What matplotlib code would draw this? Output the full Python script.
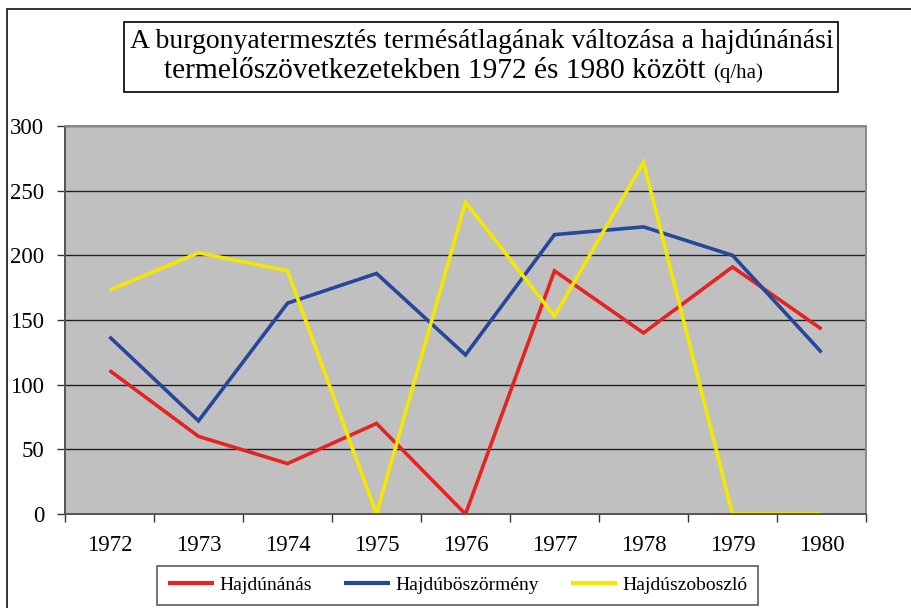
import matplotlib
matplotlib.use("Agg")
import matplotlib.pyplot as plt
from matplotlib.patches import Rectangle
from matplotlib.ticker import FixedLocator

# Termésátlag (q/ha) településenként
years = ["1972", "1973", "1974", "1975", "1976", "1977", "1978", "1979", "1980"]
hajdunanas = [111, 60, 39, 70, 0, 188, 140, 191, 143]
hajduboszormeny = [137, 72, 163, 186, 123, 216, 222, 200, 125]
hajduszoboszlo = [173, 202, 188, 0, 241, 153, 272, 0, 0]

series = [
    ("Hajdúnánás", hajdunanas, "#E52421"),
    ("Hajdúböszörmény", hajduboszormeny, "#27479B"),
    ("Hajdúszoboszló", hajduszoboszlo, "#F5E800"),
]

W, H = 911, 608
SERIF = "Liberation Serif"
plt.rcParams["font.family"] = [SERIF, "DejaVu Serif"]


def fx(px):
    return px / W


def fy(py):
    return 1 - py / H


fig = plt.figure(figsize=(W / 100, H / 100), dpi=100)
fig.patch.set_facecolor("white")

# keret a teljes ábra körül
fig.patches.append(Rectangle((fx(7), fy(700)), fx(1000), fy(9) - fy(700),
                             transform=fig.transFigure, fill=False,
                             edgecolor="#333333", linewidth=1.4))

ax = fig.add_axes([fx(65), fy(514), fx(866) - fx(65), fy(126) - fy(514)])
ax.set_facecolor("#C0C0C0")

x = list(range(len(years)))
for name, vals, col in series:
    ax.plot(x, vals, color=col, linewidth=2.6, label=name,
            solid_joinstyle="miter", solid_capstyle="butt")

ax.set_xlim(-0.5, len(years) - 0.5)
ax.set_ylim(0, 300)
ax.set_yticks(range(0, 301, 50))
ax.yaxis.grid(True, color="#222222", linewidth=1.0)
ax.set_axisbelow(True)

ax.set_xticks(x)
ax.set_xticklabels(years)
ax.xaxis.set_minor_locator(FixedLocator([i - 0.5 for i in range(len(years) + 1)]))
ax.tick_params(axis="x", which="major", length=0, pad=15, labelsize=16.5)
ax.tick_params(axis="x", which="minor", length=6, width=1, color="#333333")
ax.tick_params(axis="y", length=6, width=1, color="#333333", pad=9, labelsize=16.5)

for side in ["left", "bottom"]:
    ax.spines[side].set_color("#555555")
    ax.spines[side].set_linewidth(1.4)
for side in ["right", "top"]:
    ax.spines[side].set_color("#888888")
    ax.spines[side].set_linewidth(1.4)

# cím dobozban
fig.patches.append(Rectangle((fx(124), fy(92)), fx(838) - fx(124), fy(22) - fy(92),
                             transform=fig.transFigure, fill=False,
                             edgecolor="black", linewidth=1.2))
fig.text(fx(482), fy(41), "A burgonyatermesztés termésátlagának változása a hajdúnánási",
         ha="center", va="center", fontsize=20)
fig.text(fx(706), fy(71), "termelőszövetkezetekben 1972 és 1980 között",
         ha="right", va="center", fontsize=21.2)
fig.text(fx(713), fy(73), "(q/ha)", ha="left", va="center", fontsize=15)

leg = fig.legend(loc="center", bbox_to_anchor=(fx(457.5), fy(585)), ncol=3,
                 frameon=True, fancybox=False, fontsize=14,
                 handlelength=2.4, handletextpad=0.25, columnspacing=1.65,
                 borderpad=0.55, borderaxespad=0)
leg.get_frame().set_edgecolor("#333333")
leg.get_frame().set_linewidth(1.2)
for line in leg.get_lines():
    line.set_linewidth(3.0)

fig.savefig("out.png", dpi=100, facecolor="white")
